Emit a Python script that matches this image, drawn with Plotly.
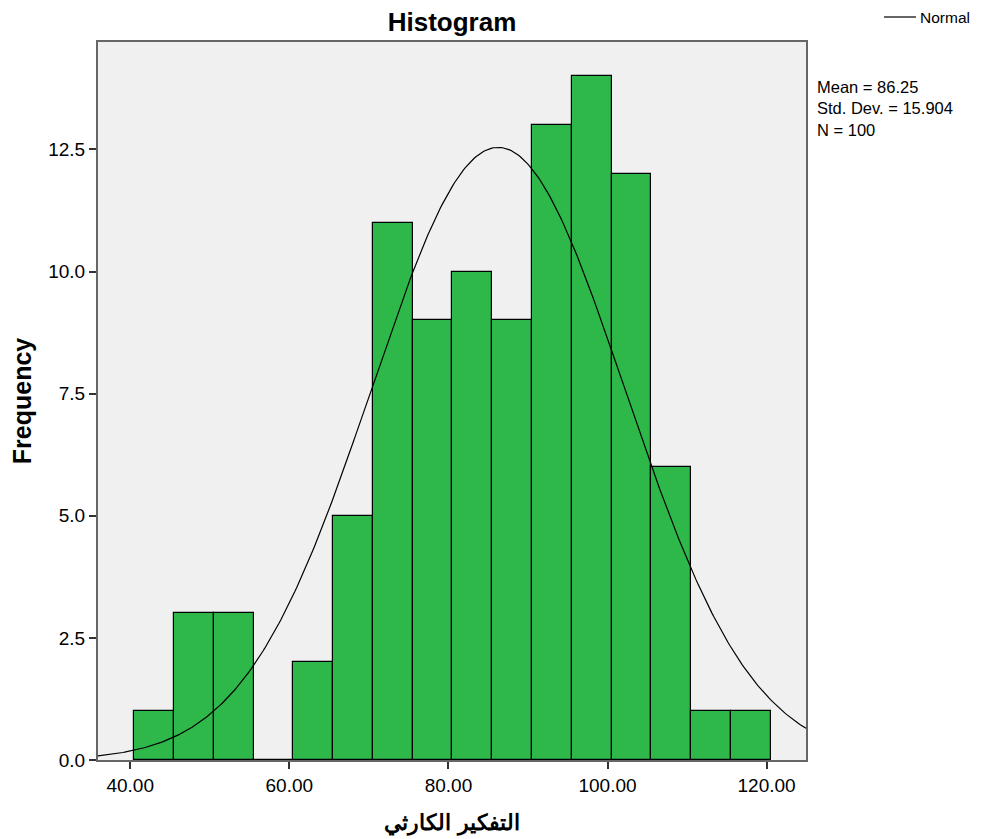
import numpy as np
import plotly.graph_objects as go

bin_centers = [43, 48, 53, 58, 63, 68, 73, 78, 83, 88, 93, 98, 103, 108, 113, 118]
counts = [1, 3, 3, 0, 2, 5, 11, 9, 10, 9, 13, 14, 12, 6, 1, 1]
bin_width = 5
mean_val = 86.25
sd_val = 15.904
n_val = 100
x_ticks = [40, 60, 80, 100, 120]
x_tick_labels = ["40.00", "60.00", "80.00", "100.00", "120.00"]
y_ticks = [0, 2.5, 5, 7.5, 10, 12.5]
y_tick_labels = ["0.0", "2.5", "5.0", "7.5", "10.0", "12.5"]
stat_lines = [f"Mean = {mean_val:.2f}", f"Std. Dev. = {sd_val:.3f}", f"N = {n_val}"]

x_min, x_max = 35.95, 124.95
xs = np.linspace(x_min, x_max, 400)
ys = n_val * bin_width / (sd_val * np.sqrt(2 * np.pi)) * np.exp(-0.5 * ((xs - mean_val) / sd_val) ** 2)

font = "Liberation Sans, Arial, sans-serif"

# plot area in page pixels (page has an 8px body margin)
PL, PR, PT, PB = 98, 806, 42, 760
PW, PH = PR - PL, PB - PT
OFF = 8

fig = go.Figure()
fig.add_trace(go.Bar(
    x=bin_centers, y=counts, width=bin_width,
    marker=dict(color="rgb(46,184,74)", line=dict(color="black", width=1.2)),
    showlegend=False, hoverinfo="x+y",
))
fig.add_trace(go.Scatter(
    x=xs, y=ys, mode="lines", line=dict(color="black", width=1.2),
    showlegend=False, name="Normal",
))

fig.update_layout(
    width=982, height=839,
    margin=dict(l=PL - OFF, r=982 + OFF - PR, t=PT - OFF, b=839 + OFF - PB),
    paper_bgcolor="white", plot_bgcolor="rgb(240,240,240)",
    font=dict(family=font, color="black", size=18),
    title=dict(text="<b>Histogram</b>", x=((PL + PR) / 2 - OFF) / 982, xanchor="center",
               y=1 - (22 - OFF) / 839, yanchor="middle", font=dict(size=26)),
    bargap=0,
    xaxis=dict(range=[x_min, x_max], tickvals=x_ticks, ticktext=x_tick_labels,
               ticks="outside", ticklen=7, tickcolor="#333", tickwidth=1.5,
               showgrid=False, zeroline=False,
               showline=True, linecolor="#666", linewidth=2, mirror=True,
               tickfont=dict(size=19),
               title=dict(text="<b>التفكير الكارثي</b>", font=dict(size=22), standoff=20)),
    yaxis=dict(range=[0, 14.7], tickvals=y_ticks, ticktext=y_tick_labels,
               ticks="outside", ticklen=7, tickcolor="#333", tickwidth=1.5,
               showgrid=False, zeroline=False,
               showline=True, linecolor="#666", linewidth=2, mirror=True,
               tickfont=dict(size=19),
               title=dict(text="<b>Frequency</b>", font=dict(size=25), standoff=12)),
)

def px_x(px):
    return (px - PL) / PW

def px_y(py):
    return (PB - py) / PH

# legend-like line and label
fig.add_shape(type="line", xref="paper", yref="paper",
              x0=px_x(884), x1=px_x(916), y0=px_y(17), y1=px_y(17),
              line=dict(color="black", width=1.2))
fig.add_annotation(xref="paper", yref="paper", x=px_x(918), y=px_y(17),
                   text="Normal", showarrow=False, xanchor="left", yanchor="middle",
                   font=dict(size=15.5))
fig.add_annotation(xref="paper", yref="paper", x=px_x(815), y=px_y(76),
                   text="<br>".join(stat_lines), showarrow=False,
                   xanchor="left", yanchor="top", align="left",
                   font=dict(size=16.5))

fig.write_html("out.html")
